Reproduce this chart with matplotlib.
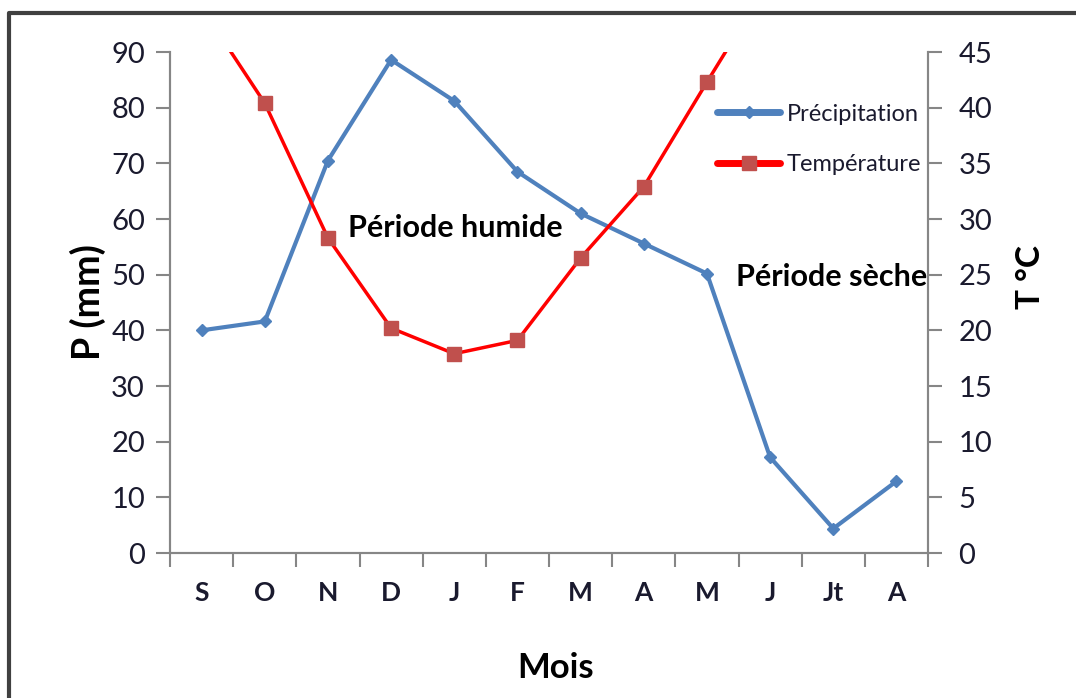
import matplotlib.pyplot as plt
from matplotlib.lines import Line2D
import numpy as np

# data
months = ["S", "O", "N", "D", "J", "F", "M", "A", "M", "J", "Jt", "A"]
precip = [40.0, 41.6, 70.5, 88.6, 81.2, 68.5, 61.0, 55.6, 50.2, 17.2, 4.4, 12.9]
temp = [49.0, 40.4, 28.3, 20.2, 17.9, 19.1, 26.5, 32.9, 42.3, 51.5, 52.0, 50.0]

plt.rcParams['font.family'] = ['Lato', 'DejaVu Sans']

blue = "#4F81BD"
red = "#FF0000"
red_mk = "#C0504D"
grey = "#868686"
txt = "#1a1a2e"

fig = plt.figure(figsize=(10.76, 6.98), dpi=100)
ax = fig.add_axes([0.158, 0.2077, 0.7045, 0.7178])
ax2 = ax.twinx()

x = np.arange(len(months))
ax.plot(x, precip, color=blue, lw=3, marker="D", ms=6, mfc=blue, mec=blue, zorder=3)
ax2.plot(x, temp, color=red, lw=2.5, marker="s", ms=10, mfc=red_mk, mec=red_mk, zorder=3)

ax.set_ylim(0, 90)
ax2.set_ylim(0, 45)
ax.set_xlim(-0.5, 11.5)
ax.set_yticks(np.arange(0, 91, 10))
ax2.set_yticks(np.arange(0, 46, 5))
ax.set_xticks(x)
ax.set_xticklabels(months, fontsize=19, fontweight="bold", color=txt)
ax.set_xticks(np.arange(-0.5, 12, 1), minor=True)
ax.tick_params(axis="x", which="major", length=0, pad=20)
ax.tick_params(axis="x", which="minor", length=10, color=grey, width=1.5)
ax.tick_params(axis="y", length=10, color=grey, width=1.5, labelsize=21, labelcolor=txt, pad=8)
ax2.tick_params(axis="y", length=10, color=grey, width=1.5, labelsize=21, labelcolor=txt, pad=12)

for a in (ax, ax2):
    a.spines["top"].set_visible(False)
    for s in ("left", "right", "bottom"):
        a.spines[s].set_color(grey)
        a.spines[s].set_linewidth(1.5)

ax.set_ylabel("P (mm)", fontsize=27, fontweight="bold", va="center")
ax.yaxis.set_label_coords(-0.108, 0.501)
ax2.set_ylabel("T °C", fontsize=24, fontweight="bold", va="center")
ax2.yaxis.set_label_coords(1.1346, 0.551)
ax.set_xlabel("Mois", fontsize=25, fontweight="bold", va="center")
ax.xaxis.set_label_coords(0.509, -0.2295)

ax.text(2.32, 58.4, "Période humide", fontsize=22, fontweight="bold", va="center")
ax.text(11.48, 49.6, "Période sèche", fontsize=22, fontweight="bold", va="center", ha="right")

handles = [Line2D([], [], color=blue, lw=5, marker="D", ms=6, solid_capstyle="round"),
           Line2D([], [], color=red, lw=5, marker="s", ms=10, mfc=red_mk, mec=red_mk,
                  solid_capstyle="round")]
leg = ax.legend(handles, ["Précipitation", "Température"], loc="upper right",
                bbox_to_anchor=(1.003, 0.916), frameon=False, fontsize=17,
                handlelength=2.7, handletextpad=0.25, labelspacing=1.25, borderaxespad=0.0)
for t in leg.get_texts():
    t.set_color(txt)

# outer frame
fig.add_artist(Line2D([9 / 1076, 9 / 1076, 1.0], [0.0, 1 - 13 / 698, 1 - 13 / 698],
                      transform=fig.transFigure, color="#404040", lw=3))

fig.savefig("out.png", dpi=100)
